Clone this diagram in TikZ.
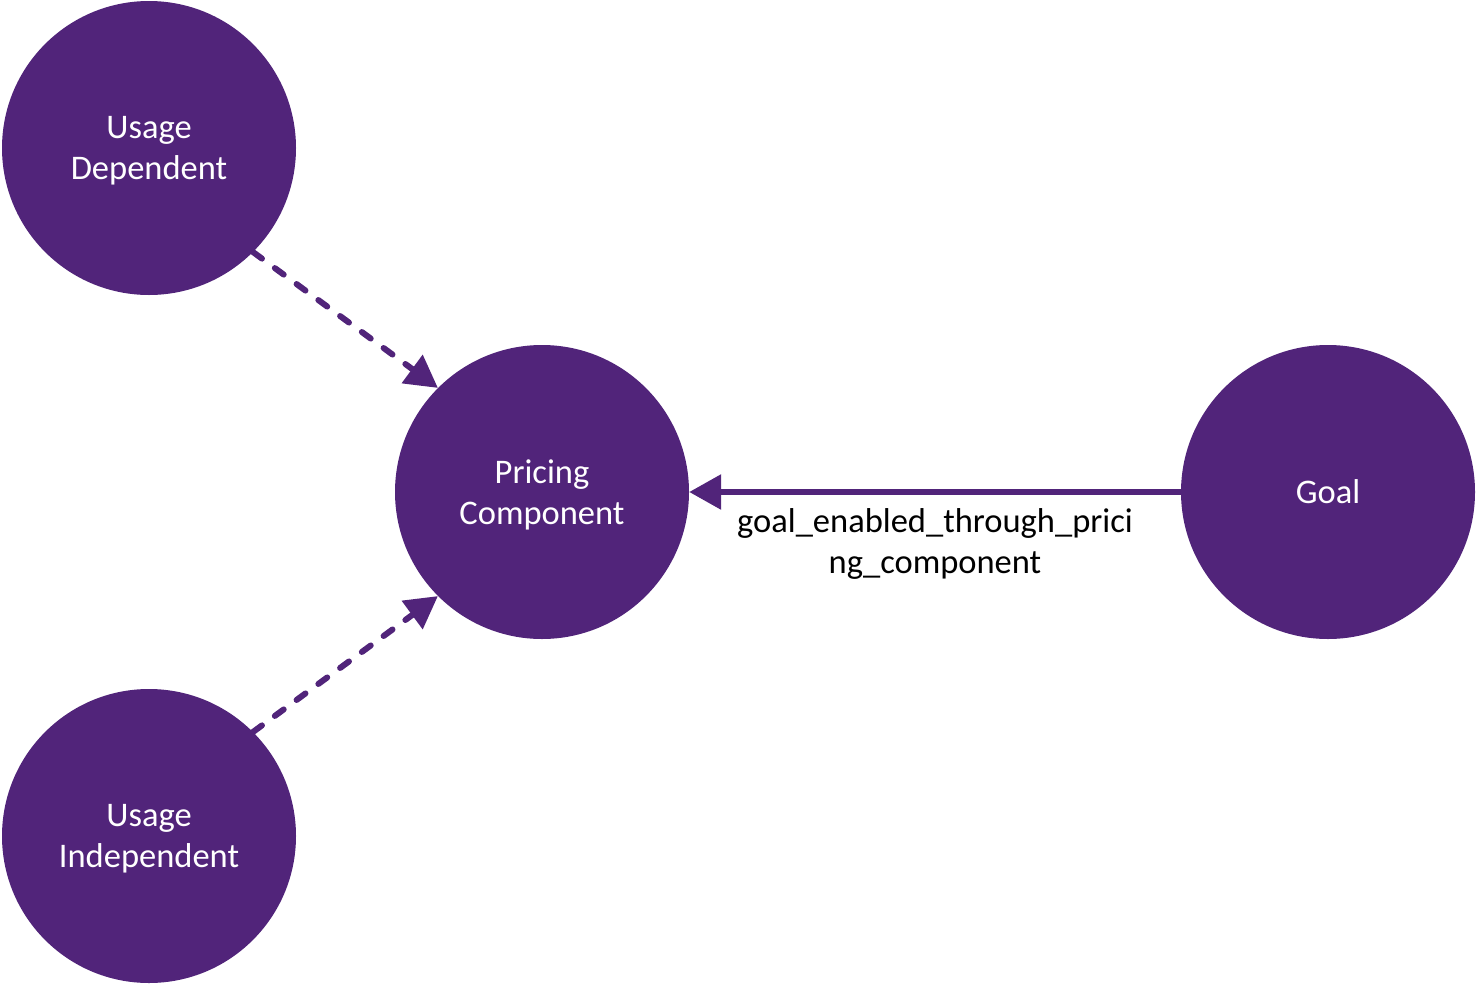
\documentclass[tikz,border=0pt]{standalone}
\usepackage{fontspec}
\setmainfont{Carlito}
\usetikzlibrary{arrows.meta}
\definecolor{purp}{HTML}{51247A}
\begin{document}
\begin{tikzpicture}[x=1pt,y=-1pt,
  ent/.style={circle,fill=purp,minimum size=294pt,inner sep=0pt},
  enttext/.style={text=white,align=center,font=\fontsize{34.5}{41}\selectfont,yshift=-3pt},
  rel/.style={draw=purp,line width=6pt,-{Triangle[length=32pt,width=34pt]}},
  dashrel/.style={rel,line cap=round,dash pattern=on 11pt off 16pt},
  lbl/.style={font=\fontsize{34.5}{41}\selectfont,align=center,text=black}]
\useasboundingbox (0,0) rectangle (1478,985);
\node[ent,label={[enttext]center:Usage\\Dependent}] (ud) at (149,148) {};
\node[ent,label={[enttext]center:Pricing\\Component}] (pc) at (542,492) {};
\node[ent,label={[enttext,yshift=3pt]center:Goal}] (goal) at (1328,492) {};
\node[ent,label={[enttext]center:Usage\\Independent}] (ui) at (149,836) {};
\draw[dashrel] (ud.-45) -- (pc.135);
\draw[dashrel] (ui.45) -- (pc.-135);
\draw[rel] (goal.west) -- node[lbl,below,yshift=-10pt] {goal\_enabled\_through\_prici\\ng\_component} (pc.east);
\end{tikzpicture}
\end{document}
